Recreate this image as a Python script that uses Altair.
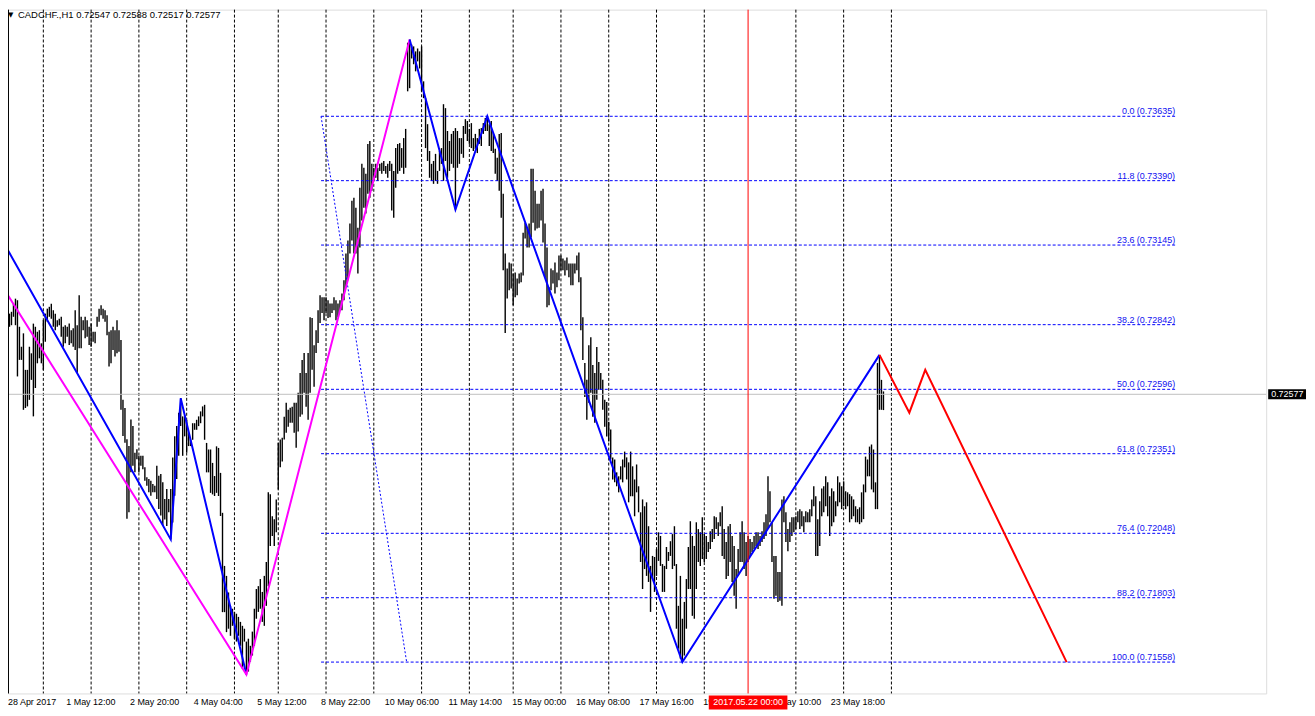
import altair as alt
import pandas as pd

# ---------------- data (prices) ----------------
symbol_title = "CADCHF.,H1  0.72547 0.72588 0.72517 0.72577"
last_close = 0.72577

# hourly bar highs / lows, bar index 0 = first bar on the chart
highs = [
    0.72979, 0.72960, 0.72954, 0.72884, 0.72891, 0.72922, 0.72941, 0.72935, 0.72834, 0.72758,
    0.72809, 0.72670, 0.72670, 0.72758, 0.72733, 0.72846, 0.72834, 0.72815, 0.72821, 0.72771,
    0.72859, 0.72884, 0.72903, 0.72910, 0.72922, 0.72897, 0.72884, 0.72859, 0.72865, 0.72872,
    0.72834, 0.72840, 0.72834, 0.72846, 0.72821, 0.72828, 0.72897, 0.72840, 0.72954, 0.72872,
    0.72859, 0.72872, 0.72859, 0.72834, 0.72846, 0.72815, 0.72815, 0.72872, 0.72903, 0.72916,
    0.72903, 0.72897, 0.72878, 0.72815, 0.72821, 0.72834, 0.72821, 0.72859, 0.72821, 0.72784,
    0.72556, 0.72525, 0.72406, 0.72380, 0.72481, 0.72456, 0.72355, 0.72368, 0.72343, 0.72343,
    0.72343, 0.72299, 0.72261, 0.72255, 0.72248, 0.72236, 0.72229, 0.72305, 0.72267, 0.72274,
    0.72242, 0.72179, 0.72217, 0.72179, 0.72217, 0.72337, 0.72417, 0.72456, 0.72507, 0.72562,
    0.72493, 0.72499, 0.72480, 0.72430, 0.72404, 0.72467, 0.72467, 0.72480, 0.72493, 0.72512,
    0.72531, 0.72537, 0.72392, 0.72367, 0.72367, 0.72316, 0.72266, 0.72379, 0.72373, 0.72278,
    0.72126, 0.71924, 0.71886, 0.71823, 0.71772, 0.71761, 0.71749, 0.71742, 0.71730, 0.71711,
    0.71696, 0.71685, 0.71636, 0.71647, 0.71620, 0.71674, 0.71761, 0.71836, 0.71847, 0.71874,
    0.71825, 0.71886, 0.71939, 0.72204, 0.72197, 0.72113, 0.72102, 0.72177, 0.72393, 0.72405,
    0.72412, 0.72492, 0.72545, 0.72518, 0.72526, 0.72530, 0.72545, 0.72545, 0.72583, 0.72658,
    0.72708, 0.72734, 0.72658, 0.72734, 0.72870, 0.72867, 0.72764, 0.72821, 0.72897, 0.72954,
    0.72946, 0.72946, 0.72946, 0.72935, 0.72923, 0.72923, 0.72946, 0.72935, 0.72923, 0.72935,
    0.72961, 0.73011, 0.73113, 0.73162, 0.73227, 0.73314, 0.73325, 0.73287, 0.73211, 0.73363,
    0.73454, 0.73439, 0.73416, 0.73530, 0.73541, 0.73454, 0.73439, 0.73454, 0.73439, 0.73454,
    0.73458, 0.73465, 0.73446, 0.73454, 0.73465, 0.73454, 0.73427, 0.73514, 0.73530, 0.73533,
    0.73514, 0.73552, 0.73587, 0.73915, 0.73927, 0.73908, 0.73901, 0.73882, 0.73893, 0.73882,
    0.73901, 0.73768, 0.73704, 0.73605, 0.73503, 0.73454, 0.73465, 0.73492, 0.73427, 0.73503,
    0.73514, 0.73681, 0.73666, 0.73579, 0.73541, 0.73568, 0.73579, 0.73590, 0.73579, 0.73552,
    0.73552, 0.73598, 0.73624, 0.73617, 0.73587, 0.73609, 0.73552, 0.73568, 0.73552, 0.73587,
    0.73590, 0.73609, 0.73628, 0.73635, 0.73605, 0.73617, 0.73571, 0.73511, 0.73477, 0.73568,
    0.73571, 0.73340, 0.73113, 0.73056, 0.73079, 0.73075, 0.73037, 0.73041, 0.73018, 0.73037,
    0.73041, 0.73192, 0.73230, 0.73211, 0.73227, 0.73435, 0.73435, 0.73352, 0.73302, 0.73302,
    0.73352, 0.73359, 0.73227, 0.73136, 0.72984, 0.73056, 0.73049, 0.73079, 0.73041, 0.73105,
    0.73105, 0.73094, 0.73086, 0.73098, 0.73075, 0.73075, 0.73075, 0.73075, 0.73105, 0.73117,
    0.73022, 0.72870, 0.72696, 0.72632, 0.72764, 0.72794, 0.72689, 0.72658, 0.72757, 0.72700,
    0.72658, 0.72632, 0.72556, 0.72548, 0.72473, 0.72443, 0.72337, 0.72329, 0.72280, 0.72265,
    0.72303, 0.72329, 0.72359, 0.72337, 0.72318, 0.72359, 0.72303, 0.72253, 0.72310, 0.72227,
    0.72128, 0.72177, 0.72151, 0.72166, 0.72075, 0.71924, 0.71962, 0.71958, 0.71988, 0.72052,
    0.72038, 0.71931, 0.71924, 0.71996, 0.71977, 0.72018, 0.72045, 0.72075, 0.71931, 0.71772,
    0.71886, 0.71723, 0.71787, 0.71874, 0.71996, 0.72094, 0.72038, 0.72000, 0.72090, 0.72064,
    0.72052, 0.72109, 0.72045, 0.72038, 0.72015, 0.72056, 0.72064, 0.72113, 0.72109, 0.72090,
    0.72128, 0.72151, 0.72064, 0.72015, 0.72075, 0.72083, 0.72038, 0.72000, 0.71912, 0.71988,
    0.72052, 0.72094, 0.72052, 0.72015, 0.72038, 0.72026, 0.72015, 0.72038, 0.72052, 0.72052,
    0.72038, 0.72056, 0.72090, 0.72121, 0.72265, 0.72208, 0.72090, 0.71962, 0.71962, 0.71901,
    0.71901, 0.72177, 0.72189, 0.72128, 0.72064, 0.72090, 0.72109, 0.72109, 0.72113, 0.72132,
    0.72140, 0.72132, 0.72113, 0.72132, 0.72128, 0.72140, 0.72177, 0.72227, 0.72189, 0.72102,
    0.72170, 0.72219, 0.72227, 0.72265, 0.72242, 0.72189, 0.72219, 0.72208, 0.72170, 0.72265,
    0.72242, 0.72227, 0.72246, 0.72208, 0.72204, 0.72197, 0.72189, 0.72177, 0.72151, 0.72140,
    0.72147, 0.72204, 0.72234, 0.72340, 0.72329, 0.72378, 0.72386, 0.72367, 0.72242, 0.72696,
    0.72727, 0.72632, 0.72588,
]
lows = [
    0.72891, 0.72910, 0.72859, 0.72834, 0.72840, 0.72872, 0.72840, 0.72645, 0.72708, 0.72708,
    0.72518, 0.72525, 0.72531, 0.72556, 0.72632, 0.72493, 0.72601, 0.72695, 0.72714, 0.72695,
    0.72670, 0.72777, 0.72853, 0.72872, 0.72865, 0.72834, 0.72821, 0.72834, 0.72840, 0.72796,
    0.72758, 0.72771, 0.72796, 0.72765, 0.72771, 0.72758, 0.72746, 0.72658, 0.72752, 0.72752,
    0.72821, 0.72790, 0.72796, 0.72765, 0.72758, 0.72777, 0.72771, 0.72834, 0.72853, 0.72878,
    0.72865, 0.72853, 0.72802, 0.72683, 0.72695, 0.72746, 0.72721, 0.72733, 0.72739, 0.72518,
    0.72418, 0.72393, 0.72103, 0.72128, 0.72280, 0.72305, 0.72280, 0.72330, 0.72280, 0.72305,
    0.72292, 0.72248, 0.72229, 0.72204, 0.72191, 0.72204, 0.72204, 0.72179, 0.72141, 0.72116,
    0.72076, 0.72101, 0.72076, 0.72128, 0.72025, 0.72089, 0.72191, 0.72255, 0.72343, 0.72456,
    0.72343, 0.72417, 0.72355, 0.72380, 0.72380, 0.72404, 0.72442, 0.72442, 0.72456, 0.72467,
    0.72493, 0.72404, 0.72280, 0.72280, 0.72202, 0.72196, 0.72190, 0.72202, 0.72190, 0.72114,
    0.71748, 0.71748, 0.71672, 0.71685, 0.71658, 0.71696, 0.71647, 0.71636, 0.71658, 0.71620,
    0.71533, 0.71636, 0.71511, 0.71522, 0.71560, 0.71583, 0.71620, 0.71723, 0.71749, 0.71761,
    0.71711, 0.71696, 0.71772, 0.71847, 0.72000, 0.72038, 0.72000, 0.72052, 0.72215, 0.72299,
    0.72321, 0.72405, 0.72431, 0.72454, 0.72469, 0.72469, 0.72431, 0.72374, 0.72435, 0.72492,
    0.72500, 0.72583, 0.72530, 0.72480, 0.72583, 0.72670, 0.72606, 0.72734, 0.72772, 0.72848,
    0.72886, 0.72859, 0.72886, 0.72867, 0.72870, 0.72886, 0.72897, 0.72859, 0.72870, 0.72897,
    0.72897, 0.72935, 0.72984, 0.73011, 0.73113, 0.73162, 0.73113, 0.73113, 0.73037, 0.73136,
    0.73238, 0.73287, 0.73265, 0.73340, 0.73325, 0.73352, 0.73389, 0.73401, 0.73389, 0.73427,
    0.73416, 0.73427, 0.73416, 0.73401, 0.73427, 0.73276, 0.73249, 0.73363, 0.73416, 0.73427,
    0.73439, 0.73416, 0.73439, 0.73730, 0.73742, 0.73855, 0.73833, 0.73806, 0.73844, 0.73817,
    0.73730, 0.73704, 0.73514, 0.73465, 0.73401, 0.73389, 0.73378, 0.73389, 0.73378, 0.73427,
    0.73454, 0.73389, 0.73465, 0.73401, 0.73427, 0.73454, 0.73439, 0.73280, 0.73439, 0.73454,
    0.73492, 0.73477, 0.73568, 0.73541, 0.73530, 0.73514, 0.73503, 0.73511, 0.73495, 0.73530,
    0.73522, 0.73568, 0.73579, 0.73579, 0.73522, 0.73503, 0.73495, 0.73416, 0.73389, 0.73352,
    0.73249, 0.73049, 0.72810, 0.72942, 0.72973, 0.72980, 0.72916, 0.72946, 0.72954, 0.72999,
    0.73003, 0.73029, 0.73170, 0.73136, 0.73136, 0.73174, 0.73230, 0.73200, 0.73208, 0.73211,
    0.73238, 0.73155, 0.73022, 0.72908, 0.72916, 0.72973, 0.72999, 0.72961, 0.72984, 0.73011,
    0.73049, 0.73049, 0.73029, 0.73049, 0.73022, 0.72992, 0.72992, 0.73037, 0.73049, 0.73003,
    0.72821, 0.72708, 0.72567, 0.72480, 0.72545, 0.72583, 0.72492, 0.72469, 0.72556, 0.72594,
    0.72594, 0.72518, 0.72454, 0.72416, 0.72397, 0.72329, 0.72253, 0.72242, 0.72227, 0.72204,
    0.72253, 0.72242, 0.72299, 0.72253, 0.72166, 0.72189, 0.72189, 0.72113, 0.72204, 0.72128,
    0.71939, 0.71836, 0.71912, 0.71886, 0.71863, 0.71749, 0.71874, 0.71825, 0.71886, 0.71943,
    0.71924, 0.71825, 0.71825, 0.71912, 0.71943, 0.71962, 0.71912, 0.71924, 0.71685, 0.71609,
    0.71571, 0.71558, 0.71583, 0.71685, 0.71836, 0.71836, 0.71734, 0.71723, 0.71836, 0.71939,
    0.71924, 0.71950, 0.71939, 0.71950, 0.71977, 0.71988, 0.72015, 0.72026, 0.72064, 0.72038,
    0.72075, 0.71962, 0.71950, 0.71874, 0.71886, 0.71939, 0.71863, 0.71810, 0.71761, 0.71886,
    0.71939, 0.71939, 0.71912, 0.71886, 0.71939, 0.71962, 0.71977, 0.71988, 0.72000, 0.71988,
    0.72000, 0.72015, 0.72026, 0.72038, 0.72064, 0.72090, 0.71939, 0.71799, 0.71810, 0.71787,
    0.71791, 0.71772, 0.72090, 0.72015, 0.71980, 0.72015, 0.72038, 0.72052, 0.72064, 0.72090,
    0.72064, 0.72075, 0.72052, 0.72090, 0.72090, 0.72090, 0.72113, 0.72151, 0.71962, 0.71962,
    0.72000, 0.72113, 0.72128, 0.72151, 0.72113, 0.72038, 0.72075, 0.72090, 0.72113, 0.72151,
    0.72166, 0.72140, 0.72151, 0.72140, 0.72151, 0.72090, 0.72102, 0.72113, 0.72090, 0.72090,
    0.72083, 0.72090, 0.72102, 0.72204, 0.72265, 0.72265, 0.72215, 0.72204, 0.72140, 0.72140,
    0.72518, 0.72518, 0.72517,
]
assert len(highs) == len(lows)

# time axis (bar index of each label)
date_labels = ["28 Apr 2017", "1 May 12:00", "2 May 20:00", "4 May 04:00", "5 May 12:00",
               "8 May 22:00", "10 May 06:00", "11 May 14:00", "15 May 00:00", "16 May 08:00",
               "17 May 16:00", "19 May 00:00", "22 May 10:00", "23 May 18:00"]
date_label_bars = [0, 32, 64, 96, 128, 160, 192, 224, 256, 288, 320, 352, 384, 416]
grid_bars = [16, 32, 48, 64, 80, 96, 112, 128, 144, 160, 176, 192, 208, 224, 240, 256, 272,
             288, 304, 320, 336, 352, 368, 384, 400, 416, 432, 448, 464, 480, 496, 512, 528,
             544, 560, 576, 592, 608, 624]
separator_bars = [20, 44, 68, 92, 116, 138, 162, 186, 210, 234, 256, 280, 304, 328, 352,
                  398, 422, 446]
crosshair_bar = 374
crosshair_text = "2017.05.22 00:00"

# price axis
price_ticks = [0.71450, 0.71575, 0.71700, 0.71825, 0.71950, 0.72075, 0.72200, 0.72325,
               0.72450, 0.72575, 0.72700, 0.72825, 0.72950, 0.73075, 0.73200, 0.73325,
               0.73450, 0.73575, 0.73700, 0.73825, 0.73955]

# zigzag / projection lines: (segment, colour, bar, price)
zig_seg = ["b1", "b1", "b1", "b1",
           "m", "m", "m",
           "b2", "b2", "b2", "b2", "b2",
           "r", "r", "r", "r"]
zig_color = ["#0000FF"] * 4 + ["#FF00FF"] * 3 + ["#0000FF"] * 5 + ["#FF0000"] * 4
zig_bar = [0, 84, 89, 122,
           0, 122, 204,
           204, 227, 243, 341, 440,
           440, 455, 463, 534]
zig_price = [0.73155, 0.72025, 0.72562, 0.71511,
             0.72981, 0.71511, 0.73927,
             0.73927, 0.73280, 0.73635, 0.71558, 0.72727,
             0.72727, 0.72507, 0.72670, 0.71558]

# fibonacci retracement
fib_levels = ["0.0", "11.8", "23.6", "38.2", "50.0", "61.8", "76.4", "88.2", "100.0"]
fib_prices = [0.73635, 0.73390, 0.73145, 0.72842, 0.72596, 0.72351, 0.72048, 0.71803, 0.71558]
fib_start_bar = 159.5
fib_low_bar = 202.5
fib_end_bar = 588.5

# ---------------- chart ----------------
W, H = 1264, 687
FONT = "Liberation Sans"
X0 = 2.25
xs = alt.Scale(domain=[X0, X0 + W / 2], nice=False, zero=False)
ys = alt.Scale(domain=[0.714386, 0.740409], nice=False, zero=False)

bars_df = pd.DataFrame({"bar": list(range(len(highs))), "high": highs, "low": lows})

x_axis = alt.Axis(values=grid_bars, labels=False, ticks=False, grid=True,
                  gridColor="#C0C0C0", gridDash=[3, 3], gridWidth=1,
                  domainColor="black", domainWidth=1, title=None)
y_axis = alt.Axis(orient="right", values=price_ticks, grid=True, gridColor="#C0C0C0",
                  gridDash=[3, 3], gridWidth=1, tickColor="black", tickSize=3,
                  domainColor="black", labelFont=FONT, labelFontSize=9, labelColor="black",
                  labelPadding=2, labelOverlap=False, labelBound=False, title=None,
                  labelExpr="abs(datum.value - 0.72575) < 0.000001 ? '' : format(datum.value, '.5f')")

bars = alt.Chart(bars_df).mark_rule(color="black", strokeWidth=1.4).encode(
    x=alt.X("bar:Q", scale=xs, axis=x_axis),
    y=alt.Y("high:Q", scale=ys, axis=y_axis),
    y2="low:Q",
)

sep = alt.Chart(pd.DataFrame({"bar": separator_bars})).mark_rule(
    color="black", strokeDash=[3, 2], strokeWidth=1).encode(
    x=alt.X("bar:Q", scale=xs, axis=None))

price_line = alt.Chart(pd.DataFrame({"price": [last_close]})).mark_rule(
    color="#C0C0C0", strokeWidth=1).encode(y=alt.Y("price:Q", scale=ys, axis=None))

fib_df = pd.DataFrame({
    "x0": [fib_start_bar] * len(fib_prices),
    "x1": [fib_end_bar] * len(fib_prices),
    "price": fib_prices,
    "label": [f"{l} ({p:.5f})" for l, p in zip(fib_levels, fib_prices)],
})
fib_lines = alt.Chart(fib_df).mark_rule(color="#0000FF", strokeDash=[3, 2], strokeWidth=1).encode(
    x=alt.X("x0:Q", scale=xs, axis=None), x2="x1:Q",
    y=alt.Y("price:Q", scale=ys, axis=None))
fib_text = alt.Chart(fib_df).mark_text(align="right", baseline="bottom", color="#1010F0",
                                       font=FONT, fontSize=9, dy=0).encode(
    x=alt.X("x1:Q", scale=xs, axis=None), y=alt.Y("price:Q", scale=ys, axis=None),
    text="label:N")
fib_diag = alt.Chart(pd.DataFrame({
    "x0": [fib_start_bar], "x1": [fib_low_bar],
    "p0": [fib_prices[0]], "p1": [fib_prices[-1]]})).mark_rule(
    color="#0000FF", strokeDash=[2, 2], strokeWidth=1).encode(
    x=alt.X("x0:Q", scale=xs, axis=None), x2="x1:Q",
    y=alt.Y("p0:Q", scale=ys, axis=None), y2="p1:Q")

zig_df = pd.DataFrame({"seg": zig_seg, "color": zig_color, "bar": zig_bar,
                       "price": zig_price, "ord": list(range(len(zig_bar)))})
zig = alt.Chart(zig_df).mark_line(strokeWidth=2, clip=True).encode(
    x=alt.X("bar:Q", scale=xs, axis=None),
    y=alt.Y("price:Q", scale=ys, axis=None),
    color=alt.Color("color:N", scale=None),
    detail="seg:N",
    order="ord:Q",
)

vline = alt.Chart(pd.DataFrame({"bar": [crosshair_bar]})).mark_rule(
    color="#FF0000", strokeWidth=1).encode(x=alt.X("bar:Q", scale=xs, axis=None))

left_border = alt.Chart(pd.DataFrame({"a": [0]})).mark_rule(color="black").encode(
    x=alt.value(0.5), y=alt.value(0), y2=alt.value(H))

title_tri = alt.Chart(pd.DataFrame({"t": ["\u25BC"]})).mark_text(
    align="left", baseline="top", font="DejaVu Sans", fontSize=7, color="black").encode(
    x=alt.value(0), y=alt.value(1), text="t:N")
title_txt = alt.Chart(pd.DataFrame({"t": [symbol_title]})).mark_text(
    align="left", baseline="top", font=FONT, fontSize=9.5, color="black").encode(
    x=alt.value(10), y=alt.value(0), text="t:N")

xlab_df = pd.DataFrame({"bar": date_label_bars, "label": date_labels})
xlabels = alt.Chart(xlab_df).transform_calculate(
    lx=f"max(datum.bar, {X0} + 0.5)"
).mark_text(align="left", baseline="middle", font=FONT,
            fontSize=9, color="black", dx=-1).encode(
    x=alt.X("lx:Q", scale=xs, axis=None), y=alt.value(H + 9), text="label:N")

cross_df = pd.DataFrame({"bar": [crosshair_bar], "x0": [crosshair_bar - 19.75],
                         "x1": [crosshair_bar + 19.75], "label": [crosshair_text]})
cross_box = alt.Chart(cross_df).mark_rule(color="#FF0000", strokeWidth=14, strokeCap="butt").encode(
    x=alt.X("x0:Q", scale=xs, axis=None), x2="x1:Q", y=alt.value(H + 9))
cross_txt = alt.Chart(cross_df).mark_text(align="center", baseline="middle", font=FONT,
                                          fontSize=9, color="white").encode(
    x=alt.X("bar:Q", scale=xs, axis=None), y=alt.value(H + 9), text="label:N")

close_df = pd.DataFrame({"price": [last_close], "label": [f"{last_close:.5f}"]})
close_box = alt.Chart(close_df).mark_rule(color="black", strokeWidth=10, strokeCap="butt").encode(
    x=alt.value(W + 2), x2=alt.value(W + 40), y=alt.Y("price:Q", scale=ys, axis=None))
close_txt = alt.Chart(close_df).mark_text(align="left", baseline="middle", font=FONT,
                                          fontSize=9, color="white").encode(
    x=alt.value(W + 5), y=alt.Y("price:Q", scale=ys, axis=None), text="label:N")

chart = alt.layer(
    bars, sep, price_line, fib_lines, fib_diag, fib_text, zig, vline, left_border,
    title_tri, title_txt, xlabels, cross_box, cross_txt, close_box, close_txt,
).properties(
    width=W, height=H,
    autosize=alt.AutoSizeParams(type="none"),
    padding={"left": 0, "top": 0, "right": 41, "bottom": 18},
).configure_view(stroke=None).configure(background="white")

chart.save("out.html", embed_options={"renderer": "svg", "actions": False})
